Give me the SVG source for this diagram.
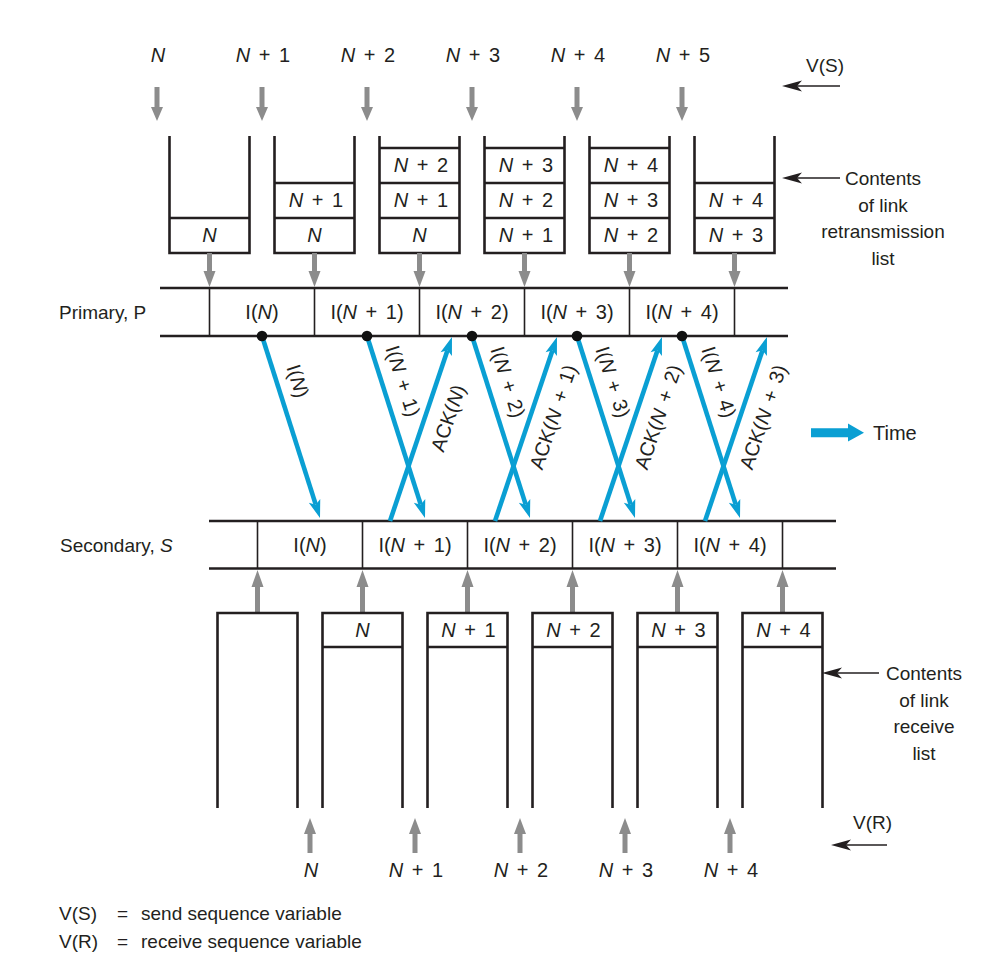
<svg xmlns="http://www.w3.org/2000/svg" width="986" height="960" viewBox="0 0 986 960">
<style>
text{font-family:"Liberation Sans",Arial,sans-serif;font-size:20px;fill:#231f20}
.m{text-anchor:middle}
.ws{word-spacing:3px}
.i{font-style:italic}
.s19{font-size:19px}
.box{fill:none;stroke:#231f20;stroke-width:2.6}
.div{stroke:#231f20;stroke-width:1.6}
.bar{stroke:#231f20;stroke-width:2.6}
.cell{stroke:#231f20;stroke-width:2.4}
.gray{fill:#8c8c8c}
.blue{stroke:#0a9fd3;stroke-width:4.6;fill:none;marker-end:url(#bh)}
.blk{stroke:#231f20;stroke-width:1.5;fill:none;marker-end:url(#kh)}
.dot{fill:#111}
</style>
<defs>
<marker id="bh" markerUnits="userSpaceOnUse" markerWidth="18" markerHeight="12" refX="4" refY="6" orient="auto" overflow="visible">
<path d="M0,0 L18,6 L0,12 L4,6 Z" fill="#0a9fd3"/>
</marker>
<marker id="kh" markerUnits="userSpaceOnUse" markerWidth="20" markerHeight="11" refX="5" refY="5.5" orient="auto" overflow="visible">
<path d="M0,0 L20,5.5 L0,11 L5,5.5 Z" fill="#231f20"/>
</marker>
</defs>

<!-- top sequence labels -->
<g id="top-labels">
<text class="m ws" x="158" y="62"><tspan class="i">N</tspan></text>
<text class="m ws" x="263" y="62"><tspan class="i">N</tspan> + 1</text>
<text class="m ws" x="368" y="62"><tspan class="i">N</tspan> + 2</text>
<text class="m ws" x="473" y="62"><tspan class="i">N</tspan> + 3</text>
<text class="m ws" x="578" y="62"><tspan class="i">N</tspan> + 4</text>
<text class="m ws" x="683" y="62"><tspan class="i">N</tspan> + 5</text>
</g>
<g id="top-gray-arrows" class="gray">
<path d="M154.5,87 H159.5 V107 H163 L157,121 L151,107 H154.5 Z"/>
<path d="M259.5,87 H264.5 V107 H268 L262,121 L256,107 H259.5 Z"/>
<path d="M364.5,87 H369.5 V107 H373 L367,121 L361,107 H364.5 Z"/>
<path d="M469.5,87 H474.5 V107 H478 L472,121 L466,107 H469.5 Z"/>
<path d="M574.5,87 H579.5 V107 H583 L577,121 L571,107 H574.5 Z"/>
<path d="M679.5,87 H684.5 V107 H688 L682,121 L676,107 H679.5 Z"/>
</g>

<!-- retransmission stacks -->
<g id="stack1">
<path class="box" d="M169.5,136 V253 H249.5 V136"/>
<line class="cell" x1="169.5" y1="218" x2="249.5" y2="218"/>
<text class="m ws" x="209.5" y="242"><tspan class="i">N</tspan></text>
</g>
<g id="stack2">
<path class="box" d="M274.5,136 V253 H354.5 V136"/>
<line class="cell" x1="274.5" y1="183" x2="354.5" y2="183"/>
<line class="cell" x1="274.5" y1="218" x2="354.5" y2="218"/>
<text class="m ws" x="316" y="207"><tspan class="i">N</tspan> + 1</text>
<text class="m ws" x="314.5" y="242"><tspan class="i">N</tspan></text>
</g>
<g id="stack3">
<path class="box" d="M379.5,136 V253 H459.5 V136"/>
<line class="cell" x1="379.5" y1="148" x2="459.5" y2="148"/>
<line class="cell" x1="379.5" y1="183" x2="459.5" y2="183"/>
<line class="cell" x1="379.5" y1="218" x2="459.5" y2="218"/>
<text class="m ws" x="421" y="172"><tspan class="i">N</tspan> + 2</text>
<text class="m ws" x="421" y="207"><tspan class="i">N</tspan> + 1</text>
<text class="m ws" x="419.5" y="242"><tspan class="i">N</tspan></text>
</g>
<g id="stack4">
<path class="box" d="M484.5,136 V253 H564.5 V136"/>
<line class="cell" x1="484.5" y1="148" x2="564.5" y2="148"/>
<line class="cell" x1="484.5" y1="183" x2="564.5" y2="183"/>
<line class="cell" x1="484.5" y1="218" x2="564.5" y2="218"/>
<text class="m ws" x="526" y="172"><tspan class="i">N</tspan> + 3</text>
<text class="m ws" x="526" y="207"><tspan class="i">N</tspan> + 2</text>
<text class="m ws" x="526" y="242"><tspan class="i">N</tspan> + 1</text>
</g>
<g id="stack5">
<path class="box" d="M589.5,136 V253 H669.5 V136"/>
<line class="cell" x1="589.5" y1="148" x2="669.5" y2="148"/>
<line class="cell" x1="589.5" y1="183" x2="669.5" y2="183"/>
<line class="cell" x1="589.5" y1="218" x2="669.5" y2="218"/>
<text class="m ws" x="631" y="172"><tspan class="i">N</tspan> + 4</text>
<text class="m ws" x="631" y="207"><tspan class="i">N</tspan> + 3</text>
<text class="m ws" x="631" y="242"><tspan class="i">N</tspan> + 2</text>
</g>
<g id="stack6">
<path class="box" d="M694.5,136 V253 H774.5 V136"/>
<line class="cell" x1="694.5" y1="183" x2="774.5" y2="183"/>
<line class="cell" x1="694.5" y1="218" x2="774.5" y2="218"/>
<text class="m ws" x="736" y="207"><tspan class="i">N</tspan> + 4</text>
<text class="m ws" x="736" y="242"><tspan class="i">N</tspan> + 3</text>
</g>
<g id="stack-gray-arrows" class="gray">
<path d="M207,253 H212 V271 H215.5 L209.5,287 L203.5,271 H207 Z"/>
<path d="M312,253 H317 V271 H320.5 L314.5,287 L308.5,271 H312 Z"/>
<path d="M417,253 H422 V271 H425.5 L419.5,287 L413.5,271 H417 Z"/>
<path d="M522,253 H527 V271 H530.5 L524.5,287 L518.5,271 H522 Z"/>
<path d="M627,253 H632 V271 H635.5 L629.5,287 L623.5,271 H627 Z"/>
<path d="M732,253 H737 V271 H740.5 L734.5,287 L728.5,271 H732 Z"/>
</g>

<!-- V(S) and retransmission list labels -->
<g id="vs-label">
<text class="s19" x="806" y="72">V(S)</text>
<line class="blk" x1="840" y1="86" x2="797" y2="86"/>
</g>
<g id="retrans-label">
<line class="blk" x1="840" y1="178" x2="797" y2="178"/>
<text class="m s19" x="883" y="185">Contents</text>
<text class="m s19" x="883" y="212">of link</text>
<text class="m s19" x="883" y="238">retransmission</text>
<text class="m s19" x="883" y="265">list</text>
</g>

<!-- primary bar -->
<g id="primary">
<text class="s19" x="59" y="319">Primary, P</text>
<line class="bar" x1="160" y1="288" x2="788" y2="288"/>
<line class="bar" x1="160" y1="336" x2="788" y2="336"/>
<line class="div" x1="209.5" y1="288" x2="209.5" y2="336"/>
<line class="div" x1="314.5" y1="288" x2="314.5" y2="336"/>
<line class="div" x1="419.5" y1="288" x2="419.5" y2="336"/>
<line class="div" x1="524.5" y1="288" x2="524.5" y2="336"/>
<line class="div" x1="629.5" y1="288" x2="629.5" y2="336"/>
<line class="div" x1="734.5" y1="288" x2="734.5" y2="336"/>
<text class="m ws" x="262" y="319">I(<tspan class="i">N</tspan>)</text>
<text class="m ws" x="367" y="319">I(<tspan class="i">N</tspan> + 1)</text>
<text class="m ws" x="472" y="319">I(<tspan class="i">N</tspan> + 2)</text>
<text class="m ws" x="577" y="319">I(<tspan class="i">N</tspan> + 3)</text>
<text class="m ws" x="682" y="319">I(<tspan class="i">N</tspan> + 4)</text>
</g>

<!-- secondary bar -->
<g id="secondary">
<text class="s19" x="60" y="552">Secondary, <tspan class="i">S</tspan></text>
<line class="bar" x1="209" y1="521" x2="836" y2="521"/>
<line class="bar" x1="209" y1="568.5" x2="836" y2="568.5"/>
<line class="div" x1="257.5" y1="521" x2="257.5" y2="568.5"/>
<line class="div" x1="362.5" y1="521" x2="362.5" y2="568.5"/>
<line class="div" x1="467.5" y1="521" x2="467.5" y2="568.5"/>
<line class="div" x1="572.5" y1="521" x2="572.5" y2="568.5"/>
<line class="div" x1="677.5" y1="521" x2="677.5" y2="568.5"/>
<line class="div" x1="782.5" y1="521" x2="782.5" y2="568.5"/>
<text class="m ws" x="310" y="552">I(<tspan class="i">N</tspan>)</text>
<text class="m ws" x="415" y="552">I(<tspan class="i">N</tspan> + 1)</text>
<text class="m ws" x="520" y="552">I(<tspan class="i">N</tspan> + 2)</text>
<text class="m ws" x="625" y="552">I(<tspan class="i">N</tspan> + 3)</text>
<text class="m ws" x="730" y="552">I(<tspan class="i">N</tspan> + 4)</text>
</g>

<!-- connectors: frames and acknowledgements -->
<g id="connectors">
<line class="blue" x1="262" y1="336" x2="315.75" y2="504.66"/>
<line class="blue" x1="367" y1="336" x2="420.75" y2="504.66"/>
<line class="blue" x1="472" y1="336" x2="525.75" y2="504.66"/>
<line class="blue" x1="577" y1="336" x2="630.75" y2="504.66"/>
<line class="blue" x1="682" y1="336" x2="735.75" y2="504.66"/>
<line class="blue" x1="390" y1="521" x2="447.51" y2="350.26"/>
<line class="blue" x1="495" y1="521" x2="552.51" y2="350.26"/>
<line class="blue" x1="600" y1="521" x2="657.51" y2="350.26"/>
<line class="blue" x1="705" y1="521" x2="762.51" y2="350.26"/>
</g>
<g id="dots">
<circle class="dot" cx="262" cy="336" r="5.3"/>
<circle class="dot" cx="367" cy="336" r="5.3"/>
<circle class="dot" cx="472" cy="336" r="5.3"/>
<circle class="dot" cx="577" cy="336" r="5.3"/>
<circle class="dot" cx="682" cy="336" r="5.3"/>
</g>
<g id="connector-labels">
<text class="m ws" transform="translate(298,381) rotate(72.3)" y="7">I(<tspan class="i">N</tspan>)</text>
<text class="m ws" transform="translate(403,381) rotate(72.3)" y="7">I(<tspan class="i">N</tspan> + 1)</text>
<text class="m ws" transform="translate(508,382) rotate(72.3)" y="7">I(<tspan class="i">N</tspan> + 2)</text>
<text class="m ws" transform="translate(613,382) rotate(72.3)" y="7">I(<tspan class="i">N</tspan> + 3)</text>
<text class="m ws" transform="translate(719,382) rotate(72.3)" y="7">I(<tspan class="i">N</tspan> + 4)</text>
<text class="m ws" transform="translate(448,418) rotate(-71.3)" y="7">ACK(<tspan class="i">N</tspan>)</text>
<text class="m ws" transform="translate(553,417) rotate(-71.3)" y="7">ACK(<tspan class="i">N</tspan> + 1)</text>
<text class="m ws" transform="translate(658,417) rotate(-71.3)" y="7">ACK(<tspan class="i">N</tspan> + 2)</text>
<text class="m ws" transform="translate(763,417) rotate(-71.3)" y="7">ACK(<tspan class="i">N</tspan> + 3)</text>
</g>

<!-- time legend -->
<g id="time">
<path d="M811,428.3 H848 V423.5 L864,432.8 L848,441.5 V437.3 H811 Z" fill="#0a9fd3"/>
<text x="873" y="440">Time</text>
</g>

<!-- receive boxes -->
<g id="recv-gray-arrows" class="gray">
<path d="M255,613 H260 V587 H263.5 L257.5,570 L251.5,587 H255 Z"/>
<path d="M360,613 H365 V587 H368.5 L362.5,570 L356.5,587 H360 Z"/>
<path d="M465,613 H470 V587 H473.5 L467.5,570 L461.5,587 H465 Z"/>
<path d="M570,613 H575 V587 H578.5 L572.5,570 L566.5,587 H570 Z"/>
<path d="M675,613 H680 V587 H683.5 L677.5,570 L671.5,587 H675 Z"/>
<path d="M780,613 H785 V587 H788.5 L782.5,570 L776.5,587 H780 Z"/>
</g>
<g id="recv1">
<path class="box" d="M217.5,808 V613 H297.5 V808"/>
</g>
<g id="recv2">
<path class="box" d="M322.5,808 V613 H402.5 V808"/>
<line class="cell" x1="322.5" y1="647" x2="402.5" y2="647"/>
<text class="m ws" x="362.5" y="637"><tspan class="i">N</tspan></text>
</g>
<g id="recv3">
<path class="box" d="M427.5,808 V613 H507.5 V808"/>
<line class="cell" x1="427.5" y1="647" x2="507.5" y2="647"/>
<text class="m ws" x="468.5" y="637"><tspan class="i">N</tspan> + 1</text>
</g>
<g id="recv4">
<path class="box" d="M532.5,808 V613 H612.5 V808"/>
<line class="cell" x1="532.5" y1="647" x2="612.5" y2="647"/>
<text class="m ws" x="573.5" y="637"><tspan class="i">N</tspan> + 2</text>
</g>
<g id="recv5">
<path class="box" d="M637.5,808 V613 H717.5 V808"/>
<line class="cell" x1="637.5" y1="647" x2="717.5" y2="647"/>
<text class="m ws" x="678.5" y="637"><tspan class="i">N</tspan> + 3</text>
</g>
<g id="recv6">
<path class="box" d="M742.5,808 V613 H822.5 V808"/>
<line class="cell" x1="742.5" y1="647" x2="822.5" y2="647"/>
<text class="m ws" x="783.5" y="637"><tspan class="i">N</tspan> + 4</text>
</g>
<g id="recv-label">
<line class="blk" x1="879" y1="673" x2="837" y2="673"/>
<text class="m s19" x="924" y="680">Contents</text>
<text class="m s19" x="924" y="707">of link</text>
<text class="m s19" x="924" y="733">receive</text>
<text class="m s19" x="924" y="760">list</text>
</g>

<!-- bottom V(R) labels -->
<g id="bottom-gray-arrows" class="gray">
<path d="M307.5,853 H312.5 V834 H316 L310,818 L304,834 H307.5 Z"/>
<path d="M412.5,853 H417.5 V834 H421 L415,818 L409,834 H412.5 Z"/>
<path d="M517.5,853 H522.5 V834 H526 L520,818 L514,834 H517.5 Z"/>
<path d="M622.5,853 H627.5 V834 H631 L625,818 L619,834 H622.5 Z"/>
<path d="M727.5,853 H732.5 V834 H736 L730,818 L724,834 H727.5 Z"/>
</g>
<g id="bottom-labels">
<text class="m ws" x="311" y="877"><tspan class="i">N</tspan></text>
<text class="m ws" x="416" y="877"><tspan class="i">N</tspan> + 1</text>
<text class="m ws" x="521" y="877"><tspan class="i">N</tspan> + 2</text>
<text class="m ws" x="626" y="877"><tspan class="i">N</tspan> + 3</text>
<text class="m ws" x="731" y="877"><tspan class="i">N</tspan> + 4</text>
</g>
<g id="vr-label">
<text class="s19" x="853" y="829">V(R)</text>
<line class="blk" x1="887" y1="845" x2="846" y2="845"/>
</g>

<!-- legend -->
<g id="legend">
<text class="s19" x="59" y="920">V(S)</text>
<text class="s19" x="117" y="920">=</text>
<text class="s19" x="141" y="920">send sequence variable</text>
<text class="s19" x="59" y="948">V(R)</text>
<text class="s19" x="117" y="948">=</text>
<text class="s19" x="141" y="948">receive sequence variable</text>
</g>
</svg>
